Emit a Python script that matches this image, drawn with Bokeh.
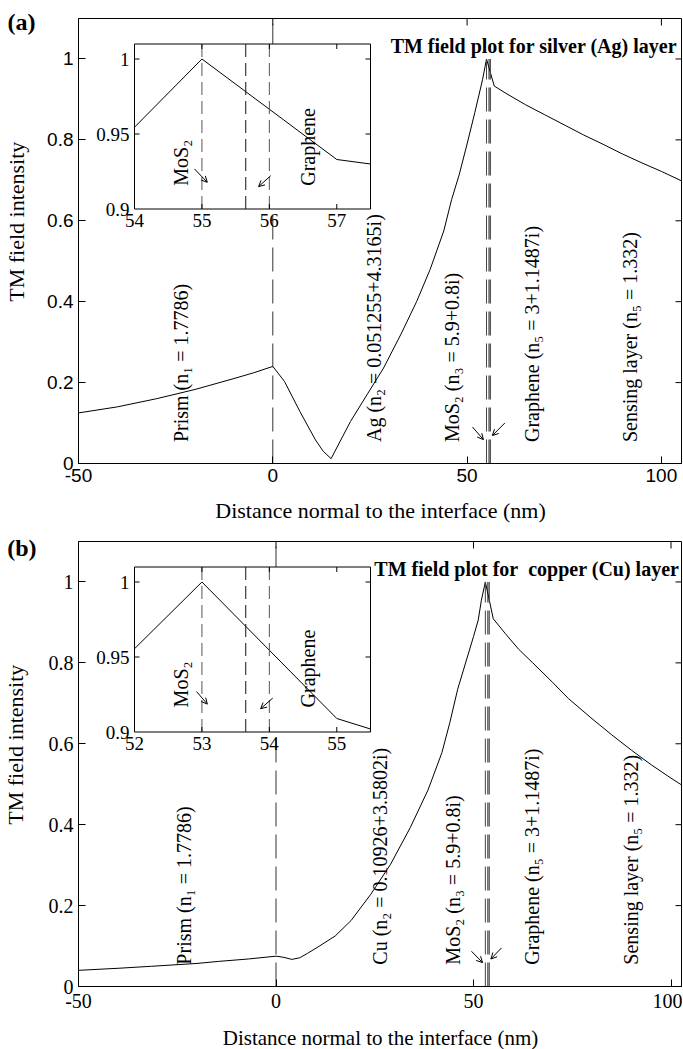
import math
from bokeh.plotting import figure
from bokeh.models import (Range1d, FixedTicker, NumeralTickFormatter, LinearAxis,
                          Label, Arrow, OpenHead)
from bokeh.layouts import column
from bokeh.embed import file_html
from bokeh.resources import INLINE
from bokeh.core.properties import value

SERIF = "Liberation Serif"
SANS = "Liberation Sans"

# ---------------- data : panel (a) silver ----------------
ag_dist = [-50, -40, -30, -20, -10, -5, 0, 3, 7, 11, 13, 15, 17.5, 20, 24.5, 28.5,
           33, 37, 40.5, 44, 46, 48, 50, 52, 54, 55, 55.65, 56, 57, 60, 65, 70, 75,
           80, 85, 90, 95, 100, 106]
ag_field = [0.125, 0.140, 0.160, 0.183, 0.210, 0.224, 0.240, 0.203, 0.128, 0.058,
            0.030, 0.012, 0.058, 0.104, 0.174, 0.236, 0.320, 0.400, 0.480, 0.575,
            0.652, 0.715, 0.790, 0.868, 0.950, 1.000, 0.978, 0.966, 0.933, 0.915,
            0.887, 0.862, 0.837, 0.812, 0.789, 0.765, 0.743, 0.722, 0.695]
ag_bounds = [0, 55, 55.65, 56]
ag_inset_dist = [54, 55, 57, 57.5]
ag_inset_field = [0.9545, 1.0, 0.933, 0.930]
ag_inset_xticks = [54, 55, 56, 57]
ag_labels = ["Prism (n\u2081 = 1.7786)", "Ag (n\u2082 = 0.051255+4.3165i)",
             "MoS\u2082 (n\u2083 = 5.9+0.8i)", "Graphene (n\u2085 = 3+1.1487i)",
             "Sensing layer (n\u2085 = 1.332)"]
ag_label_x = [-23.7, 26.1, 46.2, 66.6, 91.9]
ag_arrow_tail_x = [51.4, 59.7]
ag_arrow_tail_y = [0.090, 0.100]
ag_arrow_head_x = [54.2, 56.5]
ag_arrow_head_y = [0.059, 0.069]
ag_inset_label_x = [54.69, 56.57]
ag_inset_arrow = [(54.89, 0.9267, 55.08, 0.9178), (56.02, 0.9222, 55.84, 0.9149)]

# ---------------- data : panel (b) copper ----------------
cu_dist = [-50, -40, -31.5, -20, -14.6, -7, 0, 2, 4, 6, 8, 11, 15, 19, 24, 29, 34,
           38.5, 42, 44, 46, 48, 50, 51.2, 52, 53, 53.65, 54, 55, 58, 61.4, 65, 70,
           74, 80, 85, 90, 95, 100, 104]
cu_field = [0.040, 0.045, 0.050, 0.057, 0.062, 0.068, 0.075, 0.072, 0.067, 0.071,
            0.082, 0.100, 0.125, 0.163, 0.228, 0.302, 0.393, 0.486, 0.578, 0.652,
            0.735, 0.800, 0.865, 0.906, 0.955, 1.000, 0.9706, 0.955, 0.909, 0.873,
            0.834, 0.800, 0.752, 0.712, 0.662, 0.622, 0.584, 0.548, 0.515, 0.490]
cu_bounds = [0, 53, 53.65, 54]
cu_inset_dist = [52, 53, 55, 55.5]
cu_inset_field = [0.9555, 1.0, 0.909, 0.902]
cu_inset_xticks = [52, 53, 54, 55]
cu_labels = ["Prism (n\u2081 = 1.7786)", "Cu (n\u2082 = 0.10926+3.5802i)",
             "MoS\u2082 (n\u2083 = 5.9+0.8i)", "Graphene (n\u2085 = 3+1.1487i)",
             "Sensing layer (n\u2085 = 1.332)"]
cu_label_x = [-23.4, 26.3, 44.9, 64.7, 89.9]
cu_arrow_tail_x = [49.5, 57.1]
cu_arrow_tail_y = [0.087, 0.0955]
cu_arrow_head_x = [52.3, 54.4]
cu_arrow_head_y = [0.059, 0.068]
cu_inset_label_x = [52.69, 54.57]
cu_inset_arrow = [(52.92, 0.927, 53.08, 0.9186), (54.05, 0.9226, 53.87, 0.9155)]

main_xticks = [-50, 0, 50, 100]
main_yticks = [0, 0.2, 0.4, 0.6, 0.8, 1.0]
inset_yticks = [0.9, 0.95, 1.0]
inset_labels = ["MoS\u2082", "Graphene"]
y_label = "TM field intensity"
x_label = "Distance normal to the interface (nm)"

FW, FH = 604, 445
BL = 78
YLAB_PAD = "\u00a0" * 7   # lifts the centred y title a little, as in the original


def panel(cfg):
    x0, x1 = cfg["xr"]
    y0, y1 = 0.0, 1.1
    p = figure(frame_width=FW, frame_height=FH, x_range=Range1d(x0, x1),
               y_range=Range1d(y0, y1), output_backend="svg", toolbar_location=None,
               min_border_left=BL, min_border_right=0,
               min_border_top=cfg["bt"], min_border_bottom=cfg["bb"])
    p.grid.visible = False
    p.outline_line_color = "black"
    p.background_fill_color = "white"
    ppx = FW / (x1 - x0)
    ppy = FH / (y1 - y0)

    p.xaxis.ticker = FixedTicker(ticks=main_xticks)
    p.yaxis.ticker = FixedTicker(ticks=main_yticks)
    p.xaxis.formatter = NumeralTickFormatter(format="0")
    p.yaxis.formatter = NumeralTickFormatter(format="0.[0]")
    for ax in (p.xaxis[0], p.yaxis[0]):
        ax.major_tick_in = 7
        ax.major_tick_out = 0
        ax.minor_tick_in = 0
        ax.minor_tick_out = 0
        ax.major_label_text_font = cfg["tick_font"]
        ax.major_label_text_font_size = cfg["tick_size"]
        ax.major_label_text_color = "black"
        ax.axis_line_color = "black"
    p.yaxis[0].major_label_standoff = 5
    p.xaxis[0].major_label_standoff = cfg["xtick_standoff"]
    p.xaxis.axis_label = x_label
    p.xaxis.axis_label_text_font = SERIF
    p.xaxis.axis_label_text_font_style = "normal"
    p.xaxis.axis_label_text_font_size = cfg["xlab_size"]
    p.xaxis.axis_label_text_color = "black"
    p.xaxis.axis_label_standoff = cfg["xlab_standoff"]

    # outer left axis: carries the panel letter (its only tick label)
    # and the y-axis title
    ly = cfg["letter_y"]
    outer = LinearAxis(ticker=FixedTicker(ticks=[ly]),
                       major_label_overrides={ly: cfg["letter"]},
                       major_tick_in=0, major_tick_out=0, minor_tick_in=0,
                       minor_tick_out=0, axis_line_color=None,
                       major_label_standoff=9, major_label_text_font=SERIF,
                       major_label_text_font_style="bold",
                       major_label_text_font_size="24px",
                       major_label_text_color="black",
                       axis_label=YLAB_PAD + y_label, axis_label_standoff=-24,
                       axis_label_text_font=SERIF, axis_label_text_font_style="normal",
                       axis_label_text_font_size="22px", axis_label_text_color="black")
    p.add_layout(outer, "left")

    # mirrored inward ticks on the top and right edges of the box
    tlx = 7 / ppx
    tly = 7 / ppy
    mt = main_xticks[1:]
    p.segment(x0=mt, y0=[y1] * len(mt), x1=mt, y1=[y1 - tly] * len(mt),
              line_color="black", line_width=1)
    mr = main_yticks[1:]
    p.segment(x0=[x1] * len(mr), y0=mr, x1=[x1 - tlx] * len(mr), y1=mr,
              line_color="black", line_width=1)

    # main curve and layer boundaries
    p.line(cfg["dist"], cfg["field"], line_color="black", line_width=1)
    b = cfg["bounds"]
    p.segment(x0=b, y0=[0] * 4, x1=b, y1=[y1, 1.0, 1.0, 1.0],
              line_color=["#333333", "#444444", "#111111", "#444444"],
              line_width=1, line_dash="24 8")

    # rotated layer annotations
    p.text(x=cfg["label_x"], y=[cfg["label_y"]] * 5, text=cfg["labels"],
           angle=math.pi / 2, text_align="left", text_baseline="alphabetic",
           text_font=value(SERIF), text_font_size="20px", text_color="black")
    for tx, ty, hx, hy in zip(cfg["atx"], cfg["aty"], cfg["ahx"], cfg["ahy"]):
        p.add_layout(Arrow(end=OpenHead(size=6, line_width=1, line_color="black"),
                           x_start=tx, y_start=ty, x_end=hx, y_end=hy,
                           line_width=1, line_color="black"))

    # title inside the box
    p.add_layout(Label(x=cfg["title_x"], y=cfg["title_y"], text=cfg["title"],
                       text_align="center", text_baseline="alphabetic",
                       text_font=SERIF, text_font_style="bold",
                       text_font_size="20px", text_color="black"))

    # ---------------- inset ----------------
    ix0, ix1 = cfg["ixr"]
    iy0, iy1 = 0.9, 1.01
    bx0 = x0 + 56 / ppx
    bx1 = x0 + 292 / ppx
    by1 = y1 - 25.5 / ppy
    by0 = by1 - 165 / ppy
    sx = (ix1 - ix0) / (bx1 - bx0)
    sy = (iy1 - iy0) / (by1 - by0)
    p.extra_x_ranges = {"inx": Range1d(ix0 - (bx0 - x0) * sx, ix1 + (x1 - bx1) * sx)}
    p.extra_y_ranges = {"iny": Range1d(iy0 - (by0 - y0) * sy, iy1 + (y1 - by1) * sy)}
    ipx = ppx / sx
    ipy = ppy / sy
    kw = dict(x_range_name="inx", y_range_name="iny")

    p.quad(left=[ix0], right=[ix1], bottom=[iy0], top=[iy1], fill_color="white",
           line_color="black", line_width=1, **kw)
    p.line(cfg["idist"], cfg["ifield"], line_color="black", line_width=1, **kw)
    ib = cfg["bounds"][1:]
    p.segment(x0=ib, y0=[iy0] * 3, x1=ib, y1=[iy1] * 3,
              line_color=["#555555", "#111111", "#555555"], line_width=1,
              line_dash="13 6", **kw)
    tl = 5
    xt = cfg["ixticks"][1:]
    p.segment(x0=xt, y0=[iy0] * len(xt), x1=xt, y1=[iy0 + tl / ipy] * len(xt),
              line_color="black", **kw)
    p.segment(x0=xt, y0=[iy1] * len(xt), x1=xt, y1=[iy1 - tl / ipy] * len(xt),
              line_color="black", **kw)
    yt = inset_yticks[1:]
    p.segment(x0=[ix0] * len(yt), y0=yt, x1=[ix0 + tl / ipx] * len(yt), y1=yt,
              line_color="black", **kw)
    p.segment(x0=[ix1] * len(yt), y0=yt, x1=[ix1 - tl / ipx] * len(yt), y1=yt,
              line_color="black", **kw)
    p.text(x=cfg["ixticks"], y=[iy0 - 5 / ipy] * len(cfg["ixticks"]),
           text=[f"{v:g}" for v in cfg["ixticks"]], text_align="center",
           text_baseline="top", text_font=value(SERIF), text_font_size="19px",
           text_color="black", **kw)
    p.text(x=[ix0 - 5 / ipx] * 3, y=inset_yticks,
           text=[f"{v:g}" for v in inset_yticks], text_align="right",
           text_baseline="middle", text_font=value(SERIF), text_font_size="19px",
           text_color="black", **kw)
    p.text(x=cfg["ilabel_x"], y=[cfg["ilabel_y"]] * 2, text=inset_labels,
           angle=math.pi / 2, text_align="left", text_baseline="alphabetic",
           text_font=value(SERIF), text_font_size="20px", text_color="black", **kw)
    for tx, ty, hx, hy in cfg["iarrows"]:
        p.add_layout(Arrow(end=OpenHead(size=6, line_width=1, line_color="black"),
                           x_start=tx, y_start=ty, x_end=hx, y_end=hy,
                           line_width=1, line_color="black", **kw))
    return p


pa = panel(dict(xr=(-50, -50 + FW / 3.886), bt=18, bb=68, tick_font=SANS,
                tick_size="19px", xtick_standoff=5, xlab_size="22px", xlab_standoff=13,
                dist=ag_dist, field=ag_field, bounds=ag_bounds,
                labels=ag_labels, label_x=ag_label_x, label_y=0.053,
                atx=ag_arrow_tail_x, aty=ag_arrow_tail_y,
                ahx=ag_arrow_head_x, ahy=ag_arrow_head_y,
                title="TM field plot for silver (Ag) layer", title_x=67.2, title_y=1.033,
                letter="(a)", letter_y=1.092,
                ixr=(54, 57.5), idist=ag_inset_dist, ifield=ag_inset_field,
                ixticks=ag_inset_xticks, ilabel_x=ag_inset_label_x, ilabel_y=0.9155,
                iarrows=ag_inset_arrow))

pb = panel(dict(xr=(-50, -50 + FW / 3.95), bt=10, bb=62, tick_font=SERIF,
                tick_size="20px", xtick_standoff=7, xlab_size="21px", xlab_standoff=15,
                dist=cu_dist, field=cu_field, bounds=cu_bounds,
                labels=cu_labels, label_x=cu_label_x, label_y=0.054,
                atx=cu_arrow_tail_x, aty=cu_arrow_tail_y,
                ahx=cu_arrow_head_x, ahy=cu_arrow_head_y,
                title="TM field plot for\u00a0 copper (Cu) layer", title_x=63.5,
                title_y=1.031,
                letter="(b)", letter_y=1.085,
                ixr=(52, 55.5), idist=cu_inset_dist, ifield=cu_inset_field,
                ixticks=cu_inset_xticks, ilabel_x=cu_inset_label_x, ilabel_y=0.9164,
                iarrows=cu_inset_arrow))

layout = column(pa, pb)
open("out.html", "w").write(file_html(layout, INLINE))
